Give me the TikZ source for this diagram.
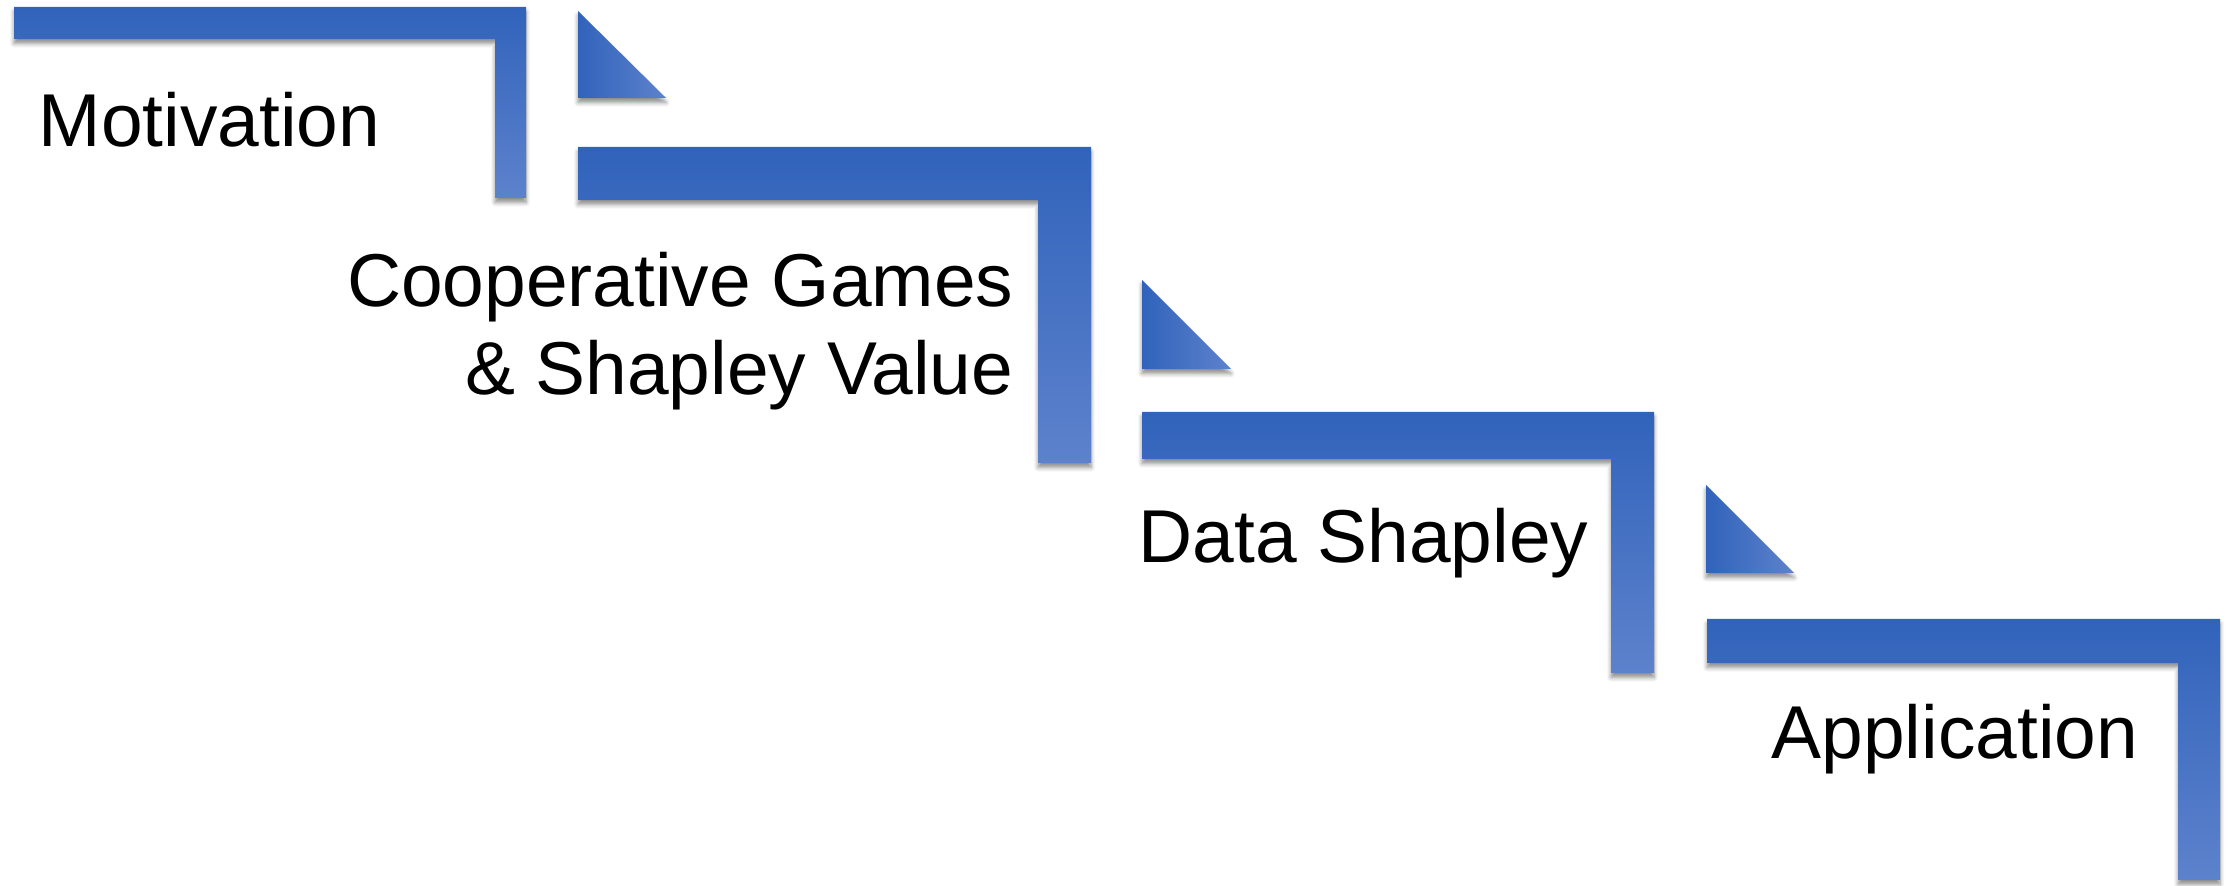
\documentclass[tikz,border=0pt]{standalone}
\usepackage{fontspec}
\setmainfont{Liberation Sans}
\usetikzlibrary{shadows.blur}
\definecolor{bdark}{HTML}{3163BB}
\definecolor{blight}{HTML}{5D82CC}
\tikzset{
  softshadow/.style={blur shadow={shadow xshift=0pt, shadow yshift=-1.3pt, shadow blur radius=1.2pt, shadow opacity=45, shadow blur steps=6}},
  bar/.style={top color=bdark, bottom color=blight, draw=none, softshadow},
  tri/.style={left color=bdark, right color=blight, draw=none, softshadow},
  lbl/.style={inner sep=0pt, font=\fontsize{21.3}{25}\selectfont, text=black}
}
\begin{document}
\begin{tikzpicture}[x=0.01cm,y=-0.01cm]
\useasboundingbox (0,0) rectangle (2236,886);
% bars
\path[bar] (14,7) -- (526,7) -- (526,198) -- (495,198) -- (495,39) -- (14,39) -- cycle;
\path[bar] (578,147) -- (1091,147) -- (1091,463) -- (1038,463) -- (1038,200) -- (578,200) -- cycle;
\path[bar] (1142,412) -- (1654,412) -- (1654,673) -- (1611,673) -- (1611,459) -- (1142,459) -- cycle;
\path[bar] (1707,619) -- (2220,619) -- (2220,880) -- (2178,880) -- (2178,663) -- (1707,663) -- cycle;
% triangles
\path[tri] (578,11) -- (578,98) -- (666,98) -- cycle;
\path[tri] (1142,280) -- (1142,369) -- (1231,369) -- cycle;
\path[tri] (1706,485) -- (1706,573) -- (1794,573) -- cycle;
% labels
\node[lbl, anchor=base west] (mot) at (38,147) {Motivation};
\node[lbl, anchor=base east] (cg1) at (1014,307) {Cooperative Games};
\node[lbl, anchor=base east] (cg2) at (1014,395) {\& Shapley Value};
\node[lbl, anchor=base west] (ds) at (1138,563) {Data Shapley};
\node[lbl, anchor=base west] (app) at (1771,759) {Application};
\end{tikzpicture}
\end{document}
